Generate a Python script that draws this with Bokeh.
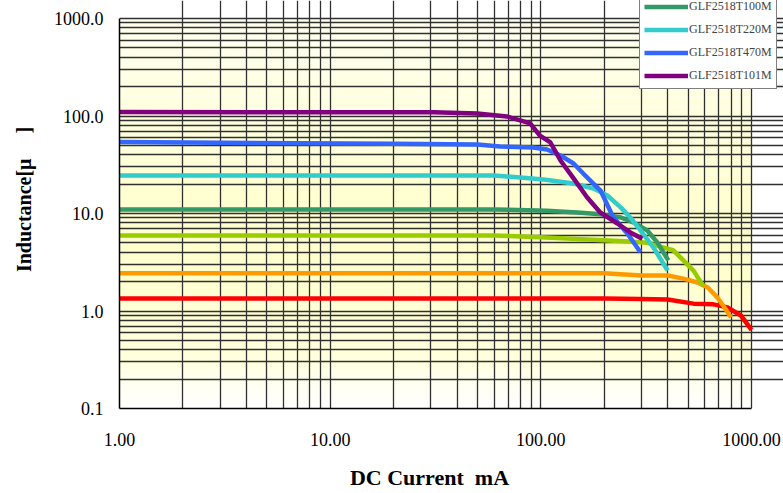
import numpy as np
from bokeh.plotting import figure
from bokeh.models import FixedTicker, PrintfTickFormatter, Legend, LegendItem
from bokeh.embed import file_html
from bokeh.resources import INLINE

# ---- data (DC current in mA, inductance in uH) ----
red_current = [1, 200, 300, 400, 530, 660, 770, 890, 1000]
red_induct = [1.34, 1.34, 1.33, 1.31, 1.19, 1.17, 1.09, 0.90, 0.64]

orange_current = [1, 200, 300, 400, 475, 555, 620, 690, 750, 800]
orange_induct = [2.44, 2.44, 2.31, 2.31, 2.15, 1.96, 1.74, 1.37, 1.06, 0.86]

lime_current = [1, 60, 100, 250, 320, 380, 425, 475, 530, 590]
lime_induct = [5.95, 5.95, 5.7, 5.2, 5.0, 4.5, 4.2, 3.3, 2.6, 1.8]

t100m_current = [1, 60, 107, 155, 192, 240, 275, 320, 357, 403]
t100m_induct = [11.0, 11.0, 10.7, 10.2, 9.8, 9.1, 8.1, 6.7, 5.05, 3.3]

t220m_current = [1, 60, 80, 103, 143, 178, 207, 240, 266, 297, 342, 400]
t220m_induct = [24.5, 24.5, 23.4, 22.3, 20.3, 18.0, 15.3, 11.5, 9.1, 6.7, 4.5, 2.6]

t470m_current = [1, 20, 50, 64, 92, 107, 124, 143, 159, 192, 221, 258, 297]
t470m_induct = [54, 52, 51, 48.6, 47.5, 45.3, 39.3, 32.6, 25.7, 17.2, 9.1, 6.2, 4.0]

t101m_current = [1, 31, 50, 69, 89, 99, 111, 124, 143, 166, 192, 231, 266, 303]
t101m_induct = [110, 109, 106, 99, 84, 63, 53.5, 35, 22.9, 14.6, 10.2, 7.9, 6.4, 5.5]

legend_names = ["GLF2518T100M", "GLF2518T220M", "GLF2518T470M", "GLF2518T101M"]

x_major = [1, 10, 100, 1000]
y_major = [0.1, 1, 10, 100, 1000]

# ---- layout: data box 1..1000 x 0.1..1000 sits at x 119..751, y 18..408;
# the frame is extended to the canvas' top/right edge so the legend is not clipped
x_dec_px = 632 / 3.0
y_dec_px = 390 / 4.0
x_end = 10 ** ((783 - 119) / x_dec_px)
y_end = 10 ** ((408 - 0) / y_dec_px - 1)

p = figure(width=783, height=493, x_axis_type="log", y_axis_type="log",
           x_range=(1, x_end), y_range=(0.1, y_end),
           output_backend="svg", toolbar_location=None,
           min_border_left=119, min_border_right=0,
           min_border_top=0, min_border_bottom=85)
p.outline_line_color = None
p.background_fill_color = "white"
p.border_fill_color = "white"

# background gradient in plot area
edges = np.logspace(-1, 3, 81)
fr = np.linspace(0, 1, 81)
stops_f = [0.0, 0.07, 0.12, 0.35, 0.55, 0.8, 1.0]
stops_b = [255, 240, 222, 205, 210, 226, 240]
cols = []
for i in range(80):
    f = (fr[i] + fr[i + 1]) / 2
    b = int(np.interp(f, stops_f, stops_b))
    cols.append("#ffff%02x" % b)
bg = p.quad(left=1, right=1000, bottom=edges[:-1], top=edges[1:],
            fill_color=cols, line_color=None)
bg.level = "image"

# ticks / grid
minor_x = [k * 10 ** e for e in range(0, 3) for k in range(2, 10)]
minor_y = [k * 10 ** e for e in range(-1, 3) for k in range(2, 10)]
p.xaxis.ticker = FixedTicker(ticks=x_major, minor_ticks=minor_x)
p.yaxis.ticker = FixedTicker(ticks=y_major, minor_ticks=minor_y)
p.xaxis.formatter = PrintfTickFormatter(format="%.2f")
p.yaxis.formatter = PrintfTickFormatter(format="%.1f")

p.xgrid.bounds = (1, 1000)
p.ygrid.bounds = (0.1, 1000)
for g in (p.xgrid, p.ygrid):
    g.grid_line_color = "#303030"
    g.grid_line_width = 1.3
    g.minor_grid_line_color = "#303030"
    g.minor_grid_line_width = 1.3

p.xaxis.bounds = (1, 1000)
p.yaxis.bounds = (0.1, 1000)
for ax in (p.xaxis, p.yaxis):
    ax.axis_line_color = "black"
    ax.axis_line_width = 1.5
    ax.major_tick_out = 0
    ax.major_tick_in = 0
    ax.minor_tick_out = 0
    ax.minor_tick_in = 0
    ax.major_label_text_font = "Liberation Serif"
    ax.major_label_text_font_size = "18px"
    ax.major_label_text_color = "black"
    ax.axis_label_text_font = "Liberation Serif"
    ax.axis_label_text_font_style = "bold"
    ax.axis_label_text_color = "black"

# trailing no-break spaces centre the visible title over the data box
p.xaxis.axis_label = "DC Current\u00a0\u00a0mA" + "\u00a0" * 8
p.xaxis.axis_label_text_font_size = "22px"
p.xaxis.major_label_standoff = 24
p.xaxis.axis_label_standoff = 16

p.yaxis.axis_label = "\u00a0\u00a0Inductance[\u03bc\u00a0\u00a0\u00a0\u00a0\u00a0]"
p.yaxis.axis_label_text_font_size = "20px"
p.yaxis.major_label_standoff = 16
p.yaxis.axis_label_standoff = 16

# ---- curves ----
lw = 4.5
p.line(red_current, red_induct, line_color="#FF0000", line_width=lw, line_join="round")
p.line(orange_current, orange_induct, line_color="#FF9900", line_width=lw, line_join="round")
p.line(lime_current, lime_induct, line_color="#99CC00", line_width=lw, line_join="round")
r100 = p.line(t100m_current, t100m_induct, line_color="#339966", line_width=lw, line_join="round")
r220 = p.line(t220m_current, t220m_induct, line_color="#33CCCC", line_width=lw, line_join="round")
r470 = p.line(t470m_current, t470m_induct, line_color="#3366FF", line_width=lw, line_join="round")
r101 = p.line(t101m_current, t101m_induct, line_color="#800080", line_width=lw, line_join="round")

items = [LegendItem(label=n, renderers=[r]) for n, r in zip(legend_names, [r100, r220, r470, r101])]
legend = Legend(items=items, location=(520, 319.5),
                border_line_color="black", border_line_width=1,
                background_fill_color="white", background_fill_alpha=1,
                padding=4, spacing=6, glyph_height=17, label_height=17,
                glyph_width=44, label_standoff=1, margin=0,
                label_text_font="Liberation Serif", label_text_font_size="12px")
p.add_layout(legend)

open("out.html", "w").write(file_html(p, INLINE))
